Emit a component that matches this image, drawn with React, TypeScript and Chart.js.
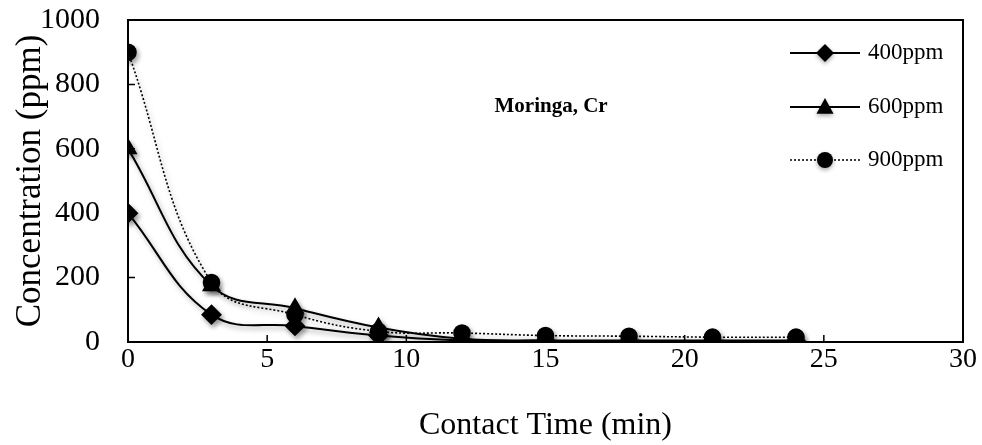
import React, { useEffect, useRef } from "react";
import { Chart, registerables } from "chart.js";

Chart.register(...registerables);

const times = [0, 3, 6, 9, 12, 15, 18, 21, 24];
const c400 = [400, 85, 50, 20, 5, 3, 2, 2, 2];
const c600 = [600, 175, 105, 45, 10, 5, 5, 5, 5];
const c900 = [900, 185, 85, 33, 28, 20, 18, 15, 15];
const seriesLabels = ["400ppm", "600ppm", "900ppm"];
const xTicks = [0, 5, 10, 15, 20, 25, 30];
const yTicks = [0, 200, 400, 600, 800, 1000];
const chartTitle = "Moringa, Cr";
const xTitle = "Contact Time (min)";
const yTitle = "Concentration (ppm)";

const FONT = "'Liberation Serif', 'DejaVu Serif', serif";

const framePlugin = {
  id: "frame",
  beforeDatasetsDraw(chart: any) {
    const { ctx, chartArea } = chart;
    const xs = chart.scales.x;
    const ys = chart.scales.y;
    ctx.save();
    ctx.strokeStyle = "#000";
    ctx.lineWidth = 2;
    ctx.strokeRect(chartArea.left, chartArea.top, chartArea.right - chartArea.left, chartArea.bottom - chartArea.top);
    ctx.lineWidth = 1.5;
    ctx.beginPath();
    xTicks.forEach((t) => {
      const px = xs.getPixelForValue(t);
      ctx.moveTo(px, chartArea.bottom);
      ctx.lineTo(px, chartArea.bottom - 7);
    });
    yTicks.forEach((t) => {
      const py = ys.getPixelForValue(t);
      ctx.moveTo(chartArea.left, py);
      ctx.lineTo(chartArea.left + 7, py);
    });
    ctx.stroke();
    ctx.restore();
  },
};

const shadowPlugin = {
  id: "shadowDs",
  beforeDatasetDraw(chart: any) {
    const ctx = chart.ctx;
    ctx.save();
    ctx.shadowColor = "rgba(0,0,0,0.35)";
    ctx.shadowBlur = 5;
    ctx.shadowOffsetX = 2;
    ctx.shadowOffsetY = 3;
  },
  afterDatasetDraw(chart: any) {
    chart.ctx.restore();
  },
};

const legendPlugin = {
  id: "customLegend",
  afterDraw(chart: any) {
    const { ctx, chartArea } = chart;
    const x0 = chartArea.right - 173;
    const ys = [chartArea.top + 33, chartArea.top + 87, chartArea.top + 140];
    chart.data.datasets.forEach((ds: any, i: number) => {
      const y = ys[i];
      ctx.save();
      ctx.strokeStyle = "#000";
      ctx.lineWidth = ds.borderWidth;
      ctx.setLineDash(ds.borderDash || []);
      ctx.beginPath();
      ctx.moveTo(x0, y);
      ctx.lineTo(x0 + 70, y);
      ctx.stroke();
      ctx.setLineDash([]);
      ctx.fillStyle = "#000";
      ctx.shadowColor = "rgba(0,0,0,0.35)";
      ctx.shadowBlur = 4;
      ctx.shadowOffsetY = 2;
      const cx = x0 + 35;
      const r = ds.pointRadius;
      ctx.beginPath();
      if (ds.pointStyle === "rectRot") {
        ctx.moveTo(cx, y - r);
        ctx.lineTo(cx + r, y);
        ctx.lineTo(cx, y + r);
        ctx.lineTo(cx - r, y);
      } else if (ds.pointStyle === "triangle") {
        ctx.moveTo(cx, y - r);
        ctx.lineTo(cx + r * 0.95, y + r * 0.75);
        ctx.lineTo(cx - r * 0.95, y + r * 0.75);
      } else {
        ctx.arc(cx, y, r, 0, Math.PI * 2);
      }
      ctx.closePath();
      ctx.fill();
      ctx.shadowColor = "transparent";
      ctx.font = `23px ${FONT}`;
      ctx.textBaseline = "middle";
      ctx.textAlign = "left";
      ctx.fillText(ds.label, x0 + 78, y);
      ctx.restore();
    });
    ctx.save();
    ctx.font = `bold 21px ${FONT}`;
    ctx.fillStyle = "#000";
    ctx.textAlign = "center";
    ctx.textBaseline = "middle";
    const xs = chart.scales.x;
    ctx.fillText(chartTitle, xs.getPixelForValue(15.2), chartArea.top + 87);
    ctx.restore();
  },
};

function pts(vals: number[]) {
  return times.map((t, i) => ({ x: t, y: vals[i] }));
}

export default function App() {
  const ref = useRef<HTMLCanvasElement | null>(null);
  useEffect(() => {
    document.body.style.margin = "0";
    const canvas = ref.current!;
    const common = {
      borderColor: "#000",
      backgroundColor: "#000",
      pointBackgroundColor: "#000",
      pointBorderColor: "#000",
      borderWidth: 2,
      tension: 0.4,
      cubicInterpolationMode: "default",
      fill: false,
    };
    const chart = new Chart(canvas, {
      type: "line",
      data: {
        datasets: [
          { ...common, label: seriesLabels[0], data: pts(c400), pointStyle: "rectRot", pointRadius: 9 },
          { ...common, label: seriesLabels[1], data: pts(c600), pointStyle: "triangle", pointRadius: 9 },
          { ...common, label: seriesLabels[2], data: pts(c900), pointStyle: "circle", pointRadius: 8, borderWidth: 1.6, borderDash: [2, 2] },
        ] as any,
      },
      options: {
        animation: false,
        responsive: false,
        layout: { padding: { top: 20, right: 19, left: 0, bottom: 0 } },
        plugins: { legend: { display: false }, tooltip: { enabled: false }, title: { display: false } },
        scales: {
          x: {
            type: "linear",
            min: 0,
            max: 30,
            afterFit: (s: any) => { s.height = 103; s.paddingLeft = 0; s.paddingRight = 0; },
            afterBuildTicks: (s: any) => { s.ticks = xTicks.map((v) => ({ value: v })); },
            grid: { display: false, drawTicks: false },
            border: { display: false },
            ticks: { color: "#000", font: { family: FONT, size: 28 }, padding: 1, maxRotation: 0 },
            title: { display: true, text: xTitle, color: "#000", font: { family: FONT, size: 32 }, padding: { top: 1, bottom: 0 } },
          },
          y: {
            type: "linear",
            min: 0,
            max: 1000,
            afterFit: (s: any) => { s.width = 128; s.paddingTop = 0; s.paddingBottom = 0; },
            afterBuildTicks: (s: any) => { s.ticks = yTicks.map((v) => ({ value: v })); },
            grid: { display: false, drawTicks: false },
            border: { display: false },
            ticks: { color: "#000", font: { family: FONT, size: 30 }, padding: 28, callback: (v: any) => String(v) },
            title: { display: true, text: yTitle, color: "#000", font: { family: FONT, size: 35 }, padding: { top: 10, bottom: 0 } },
          },
        },
      },
      plugins: [framePlugin, shadowPlugin, legendPlugin],
    } as any);
    return () => chart.destroy();
  }, []);
  return (
    <div style={{ position: "fixed", left: 0, top: 0, width: 982, height: 445, background: "#fff" }}>
      <canvas ref={ref} width={982} height={445} style={{ width: 982, height: 445 }} />
    </div>
  );
}
